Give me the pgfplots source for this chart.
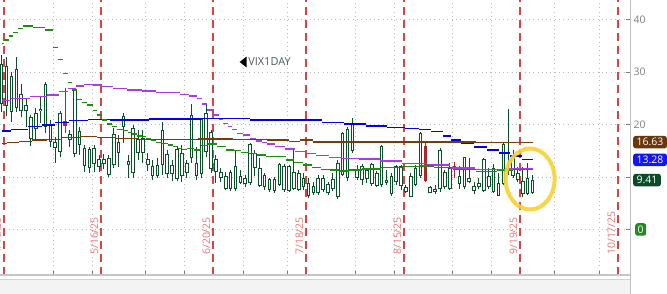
\documentclass[border=0pt]{standalone}
\usepackage{pgfplots}
\pgfplotsset{compat=1.18}
\usepackage{pgfplotstable}
\usepackage{fontspec}
\setmainfont{Open Sans}
\definecolor{cgreen}{RGB}{10,80,40}
\definecolor{cred}{RGB}{175,40,40}
\definecolor{mablue}{RGB}{0,0,245}
\definecolor{mapurple}{RGB}{165,60,235}
\definecolor{mabrown}{RGB}{120,60,10}
\definecolor{magreen}{RGB}{30,140,20}
\definecolor{reddash}{RGB}{210,70,70}
\definecolor{datec}{RGB}{230,120,120}
\definecolor{gridc}{RGB}{185,185,185}
\definecolor{tickc}{RGB}{125,125,125}
\definecolor{stripc}{RGB}{243,243,243}
\definecolor{boxbrown}{RGB}{105,55,10}
\definecolor{boxblue}{RGB}{20,20,250}
\definecolor{boxgreen}{RGB}{12,75,42}
\definecolor{boxzero}{RGB}{35,135,35}
\definecolor{ringc}{RGB}{250,210,50}
\definecolor{labc}{RGB}{80,90,100}

\pgfplotstableread{
i o h l c
0 23.9 33.2 22.4 31.5
1 23.5 32.9 21.6 31.1
2 22.4 30.0 20.5 29.2
3 23.1 32.9 22.4 30.6
4 22.6 27.7 21.4 25.8
5 22.6 25.0 19.5 23.7
6 17.2 21.8 15.9 21.4
7 19.1 23.1 17.2 22.2
8 22.6 25.4 20.3 23.0
9 19.5 28.1 18.4 27.7
10 16.7 20.9 15.7 20.1
11 15.5 17.6 12.7 16.7
12 14.8 22.6 13.8 22.2
14 17.0 19.0 15.7 18.2
15 14.4 27.0 13.8 26.8
16 16.1 19.5 14.2 18.8
17 12.1 16.1 11.0 15.5
18 11.7 15.7 10.8 15.3
19 12.5 16.1 11.0 15.5
20 11.9 14.2 11.0 13.4
21 12.5 14.4 11.5 13.4
22 10.4 14.2 10.0 13.7
23 12.2 19.3 11.7 18.2
24 14.6 18.0 11.9 16.7
25 19.5 22.2 16.5 21.6
26 12.3 14.2 9.8 13.1
27 10.8 19.9 9.8 19.3
28 14.5 19.0 13.2 17.2
29 14.6 19.0 12.7 17.4
30 12.3 14.6 11.1 13.4
31 10.1 13.2 9.4 12.1
32 10.1 13.6 9.8 12.3
33 12.3 20.5 10.4 19.0
34 10.6 15.1 9.8 14.4
35 10.5 13.2 9.2 12.3
36 9.7 15.9 9.2 15.3
37 10.1 16.1 9.1 14.6
38 10.7 13.2 9.8 12.7
39 13.6 23.9 12.7 21.8
40 10.2 15.8 9.4 12.7
41 10.5 21.2 9.8 21.0
42 14.8 23.9 13.9 22.1
43 11.5 19.0 10.8 18.6
44 11.0 14.2 8.9 13.4
45 9.8 11.7 9.1 11.0
46 7.8 11.0 7.5 10.2
47 7.7 11.3 7.4 11.0
48 7.8 15.1 7.4 12.1
49 8.9 11.3 8.7 10.1
50 8.7 10.4 8.1 9.8
51 8.8 16.5 8.5 16.2
52 11.7 15.1 10.1 14.6
53 8.3 13.6 8.1 11.8
54 8.0 10.8 7.5 10.4
55 7.6 9.8 7.2 9.6
56 7.3 10.0 7.0 9.6
57 8.5 12.7 8.3 12.5
58 7.5 12.5 7.2 12.1
59 7.4 12.3 7.2 12.1
60 7.8 15.3 7.5 11.0
61 7.5 11.3 7.3 10.7
62 8.0 10.8 7.5 9.8
63 6.4 9.8 6.0 8.8
64 7.0 9.1 6.6 8.3
65 6.9 10.4 6.6 9.9
66 7.5 10.4 7.2 9.9
67 6.9 9.1 6.6 8.7
68 7.7 10.7 7.3 9.6
69 6.1 13.2 5.9 12.7
70 10.4 18.6 10.1 18.3
71 9.8 19.6 9.3 19.1
72 15.0 21.2 14.6 20.2
73 9.8 12.3 9.4 11.3
74 9.5 12.5 8.5 12.0
75 9.6 11.7 8.9 11.3
76 8.7 12.7 8.3 12.5
77 8.3 11.2 8.0 10.8
78 8.5 16.1 8.0 15.9
79 8.9 11.3 8.5 9.4
80 6.8 10.7 6.4 10.2
81 9.1 12.3 8.5 12.0
82 8.2 12.3 7.5 12.0
83 7.2 8.5 6.9 8.0
84 6.2 10.7 6.1 10.2
85 8.5 12.3 8.2 11.8
86 10.2 18.6 9.9 18.4
88 7.0 8.3 6.9 8.0
89 7.2 8.5 6.8 7.7
90 7.7 15.5 7.2 15.1
91 8.0 11.3 7.7 11.0
92 7.8 12.7 7.5 11.7
94 8.7 12.0 7.8 10.1
95 8.0 13.9 7.7 13.8
96 9.1 13.6 8.9 9.9
97 7.3 9.1 6.8 8.3
98 8.0 9.8 7.7 8.9
99 7.4 13.6 7.2 13.4
100 8.0 11.7 7.7 10.2
101 7.2 12.5 7.0 11.8
102 6.4 10.7 6.3 8.9
103 8.7 16.5 8.5 16.3
104 14.4 22.9 10.4 14.8
105 10.2 15.1 9.9 14.2
106 9.4 11.9 9.0 10.7
107 6.8 11.9 6.1 9.2
108 6.8 12.7 6.5 9.8
109 7.0 10.4 6.7 9.41
}\candles

\pgfplotstableread{
i o h l c
13 20.7 27.0 18.4 19.7
87 15.9 16.7 9.1 9.3
93 12.1 12.9 9.8 11.5
}\redcandles

\pgfplotstableread{
x y
-0.04 35.47
0.99 36.10
2.01 36.86
2.83 37.49
3.86 38.32
4.89 38.76
7.86 38.51
10.02 38.0
11.05 34.70
11.97 32.42
13.10 29.75
14.02 28.04
15.05 26.57
15.98 24.80
17.0 24.23
18.03 23.71
19.26 22.63
20.08 21.81
21.1 20.86
22.14 20.10
23.16 19.58
24.29 19.09
25.42 18.82
26.34 18.48
27.27 18.19
28.30 17.81
29.32 17.68
30.14 17.37
31.17 16.91
32.40 16.61
33.53 16.42
34.56 16.10
35.69 15.77
36.61 15.47
37.43 15.28
38.87 15.47
40.21 15.14
41.54 15.96
43.29 16.29
45.24 15.77
46.88 15.14
48.42 15.01
49.96 14.70
51.50 14.51
53.45 14.19
54.99 13.87
57.35 13.87
59.2 13.24
60.84 12.72
62.79 12.29
64.54 11.85
66.39 11.47
68.44 11.33
70.19 11.14
72.44 11.33
75.62 11.52
80.04 11.85
84.15 11.96
87.12 12.10
90.41 11.85
94.82 11.47
99.96 11.01
103.35 11.24
106.63 11.47
109.0 11.47
}\magreentab

\pgfplotstableread{
x y
0.00 24.57
3.76 24.99
7.86 25.30
10.64 25.62
12.69 26.25
14.54 26.90
15.87 27.33
17.93 27.66
19.67 27.52
21.52 27.20
24.29 26.90
27.37 26.57
30.45 26.38
32.92 26.06
35.59 26.13
37.64 25.75
39.28 25.43
40.72 24.99
41.44 23.90
42.88 22.76
44.11 21.81
45.13 20.99
45.85 20.23
46.88 19.62
47.90 19.05
48.93 18.32
50.27 18.00
51.50 17.37
52.73 16.86
53.96 16.53
55.09 16.29
57.14 15.81
59.20 15.33
61.25 14.82
63.31 14.51
65.77 14.10
68.44 13.75
71.11 13.56
75.62 13.43
79.73 13.05
84.56 12.61
89.90 12.29
94.10 11.71
100.27 11.43
106.40 11.52
109.00 11.58
}\mapurpletab

\pgfplotstableread{
x y
0.00 18.76
3.76 19.09
6.84 19.58
9.51 19.90
12.38 20.34
15.36 20.72
19.88 20.99
24.50 20.86
35.79 21.05
45.85 21.18
56.12 20.86
63.50 20.86
68.03 20.42
72.54 20.10
77.06 19.71
81.17 19.47
84.56 19.28
86.85 19.09
89.59 18.63
91.54 17.81
93.08 17.05
95.54 16.38
98.21 15.71
100.88 15.14
103.35 14.57
105.40 14.00
108.07 13.37
109.00 13.28
}\mabluetab

\pgfplotstableread{
x y
0.00 16.42
2.12 16.53
4.78 16.72
7.86 17.05
10.94 17.18
14.02 17.56
18.13 17.68
21.21 17.56
25.32 17.37
30.45 17.18
36.61 17.18
43.80 17.24
50.99 17.14
57.76 17.05
60.22 16.72
62.28 17.05
65.36 16.68
85.89 16.66
109.00 16.63
}\mabrowntab

\begin{document}
\begin{tikzpicture}
\useasboundingbox (0,-19bp) rectangle (667bp,275bp);
\fill[white] (0,-19bp) rectangle (667bp,275bp);
\fill[stripc] (0,-19bp) rectangle (630bp,-4.5bp);
\begin{axis}[
  scale only axis, width=630bp, height=275bp,
  at={(0,0)}, anchor=south west,
  xmin=-0.349, xmax=129.01, ymin=-8.67, ymax=43.71,
  axis line style={draw=none},
  clip=false,
  xtick={10.53,18.54,29.42,37.43,49.55,58.58,72.55,80.56,92.46,100.47,113.4,122.65},
  xticklabels={},
  ytick={0,10,20,30,40}, yticklabels={},
  xmajorgrids, ymajorgrids,
  grid style={draw=gridc, line width=0.9bp, dash pattern=on 1bp off 3.3bp},
  tick align=inside, xtick pos=bottom, ytick pos=right,
  major tick length=4bp,
  tick style={draw=tickc, line width=0.8bp},
  candle/.style={only marks, mark=*, mark size=0pt, mark options={draw=none, fill=none}, forget plot,
    error bars/.cd, y dir=plus, y explicit, error mark=none},
]
% monthly dashed lines
\draw[reddash, line width=1.2bp, dash pattern=on 8bp off 5bp] (axis cs:0.47,-8.67) -- (axis cs:0.47,43.71);
\draw[reddash, line width=1.2bp, dash pattern=on 8bp off 5bp] (axis cs:20.39,-8.67) -- (axis cs:20.39,43.71);
\draw[reddash, line width=1.2bp, dash pattern=on 8bp off 5bp] (axis cs:43.39,-8.67) -- (axis cs:43.39,43.71);
\draw[reddash, line width=1.2bp, dash pattern=on 8bp off 5bp] (axis cs:62.49,-8.67) -- (axis cs:62.49,43.71);
\draw[reddash, line width=1.2bp, dash pattern=on 8bp off 5bp] (axis cs:82.61,-8.67) -- (axis cs:82.61,43.71);
\draw[reddash, line width=1.2bp, dash pattern=on 8bp off 5bp] (axis cs:106.43,-8.67) -- (axis cs:106.43,43.71);
\draw[reddash, line width=1.2bp, dash pattern=on 8bp off 5bp] (axis cs:126.55,-8.67) -- (axis cs:126.55,43.71);
% date labels
\node[rotate=90, anchor=base west, inner sep=0pt, text=datec, font=\fontsize{10.5}{12}\selectfont] at ([xshift=-3bp]axis cs:0.47,-4.86) {4/18/25};
\node[rotate=90, anchor=base west, inner sep=0pt, text=datec, font=\fontsize{10.5}{12}\selectfont] at ([xshift=-3bp]axis cs:20.39,-4.86) {5/16/25};
\node[rotate=90, anchor=base west, inner sep=0pt, text=datec, font=\fontsize{10.5}{12}\selectfont] at ([xshift=-3bp]axis cs:43.39,-4.86) {6/20/25};
\node[rotate=90, anchor=base west, inner sep=0pt, text=datec, font=\fontsize{10.5}{12}\selectfont] at ([xshift=-3bp]axis cs:62.49,-4.86) {7/18/25};
\node[rotate=90, anchor=base west, inner sep=0pt, text=datec, font=\fontsize{10.5}{12}\selectfont] at ([xshift=-3bp]axis cs:82.61,-4.86) {8/15/25};
\node[rotate=90, anchor=base west, inner sep=0pt, text=datec, font=\fontsize{10.5}{12}\selectfont] at ([xshift=-3bp]axis cs:106.43,-4.86) {9/19/25};
\node[rotate=90, anchor=base west, inner sep=0pt, text=datec, font=\fontsize{10.5}{12}\selectfont] at ([xshift=-3bp]axis cs:126.55,-4.86) {10/17/25};

% candles: wicks
\addplot[candle, error bar style={line width=1bp, draw=cgreen}]
  table[x=i, y=l, y error expr=\thisrow{h}-\thisrow{l}] {\candles};
% bodies outer
\addplot[candle, error bar style={line width=3.6bp, draw=cgreen}]
  table[x=i, y expr={min(\thisrow{o},\thisrow{c})}, y error expr={max(abs(\thisrow{c}-\thisrow{o}),0.3)}] {\candles};
% bodies inner (hollow)
\addplot[candle, error bar style={line width=1.6bp, draw=white}]
  table[x=i, y expr={min(\thisrow{o},\thisrow{c})+0.19}, y error expr={max(abs(\thisrow{c}-\thisrow{o})-0.38,0)}] {\candles};
% red candles
\addplot[candle, error bar style={line width=1bp, draw=cred}]
  table[x=i, y=l, y error expr=\thisrow{h}-\thisrow{l}] {\redcandles};
\addplot[candle, error bar style={line width=3.6bp, draw=cred}]
  table[x=i, y expr={min(\thisrow{o},\thisrow{c})}, y error expr={max(abs(\thisrow{c}-\thisrow{o}),0.3)}] {\redcandles};

% moving averages
\addplot[mabrown, line width=1.2bp, jump mark mid, forget plot] table[x=x,y=y] {\mabrowntab};
\addplot[mablue, line width=1.2bp, jump mark mid, forget plot] table[x=x,y=y] {\mabluetab};
\addplot[mapurple, line width=1.2bp, jump mark mid, forget plot] table[x=x,y=y] {\mapurpletab};
\addplot[magreen, line width=1.2bp, jump mark mid, forget plot] table[x=x,y=y] {\magreentab};

% highlight ring
\draw[ringc, line width=4bp, opacity=0.9] (axis cs:108.5,9.62) ellipse [x radius=24.5bp, y radius=30.5bp];

% symbol label
\node[anchor=west, inner sep=0pt, text=labc, font=\fontsize{11}{13}\selectfont] (sym) at (axis cs:50.6,31.9) {VIX1DAY};

% right axis labels
\node[anchor=west, inner sep=0pt, text=tickc, font=\fontsize{10.5}{12}\selectfont] at ([xshift=3.5bp]axis cs:129.01,40) {40};
\node[anchor=west, inner sep=0pt, text=tickc, font=\fontsize{10.5}{12}\selectfont] at ([xshift=3.5bp]axis cs:129.01,30) {30};
\node[anchor=west, inner sep=0pt, text=tickc, font=\fontsize{10.5}{12}\selectfont] at ([xshift=3.5bp]axis cs:129.01,20) {20};
\node[anchor=west, fill=boxbrown, text=white, rounded corners=2.5bp, inner xsep=3.5bp, inner ysep=0pt, minimum height=12.5bp, font=\fontsize{10.5}{12}\selectfont] at ([xshift=3bp]axis cs:129.01,16.63) {16.63};
\node[anchor=west, fill=boxblue, text=white, rounded corners=2.5bp, inner xsep=3.5bp, inner ysep=0pt, minimum height=12.5bp, font=\fontsize{10.5}{12}\selectfont] at ([xshift=3bp]axis cs:129.01,13.28) {13.28};
\node[anchor=west, fill=boxgreen, text=white, rounded corners=2.5bp, inner xsep=3.5bp, inner ysep=0pt, minimum height=12.5bp, font=\fontsize{10.5}{12}\selectfont] at ([xshift=3bp]axis cs:129.01,9.41) {9.41};
\node[anchor=west, fill=boxzero, text=white, rounded corners=2.5bp, inner xsep=2.5bp, inner ysep=0pt, minimum height=12.5bp, font=\fontsize{10.5}{12}\selectfont] at ([xshift=5bp]axis cs:129.01,0) {0};
\end{axis}
\fill[black] ([xshift=-1.5bp,yshift=5.5bp]sym.west) -- ++(0bp,-11bp) -- ++(-7bp,5.5bp) -- cycle;
\draw[gray!45, line width=1.2bp] (0,0) -- (630bp,0);
\draw[gray!35, line width=0.8bp] (0,-4.5bp) -- (630bp,-4.5bp);
\draw[gray!50, line width=1bp] (630bp,-19bp) -- (630bp,275bp);
\end{tikzpicture}
\end{document}
